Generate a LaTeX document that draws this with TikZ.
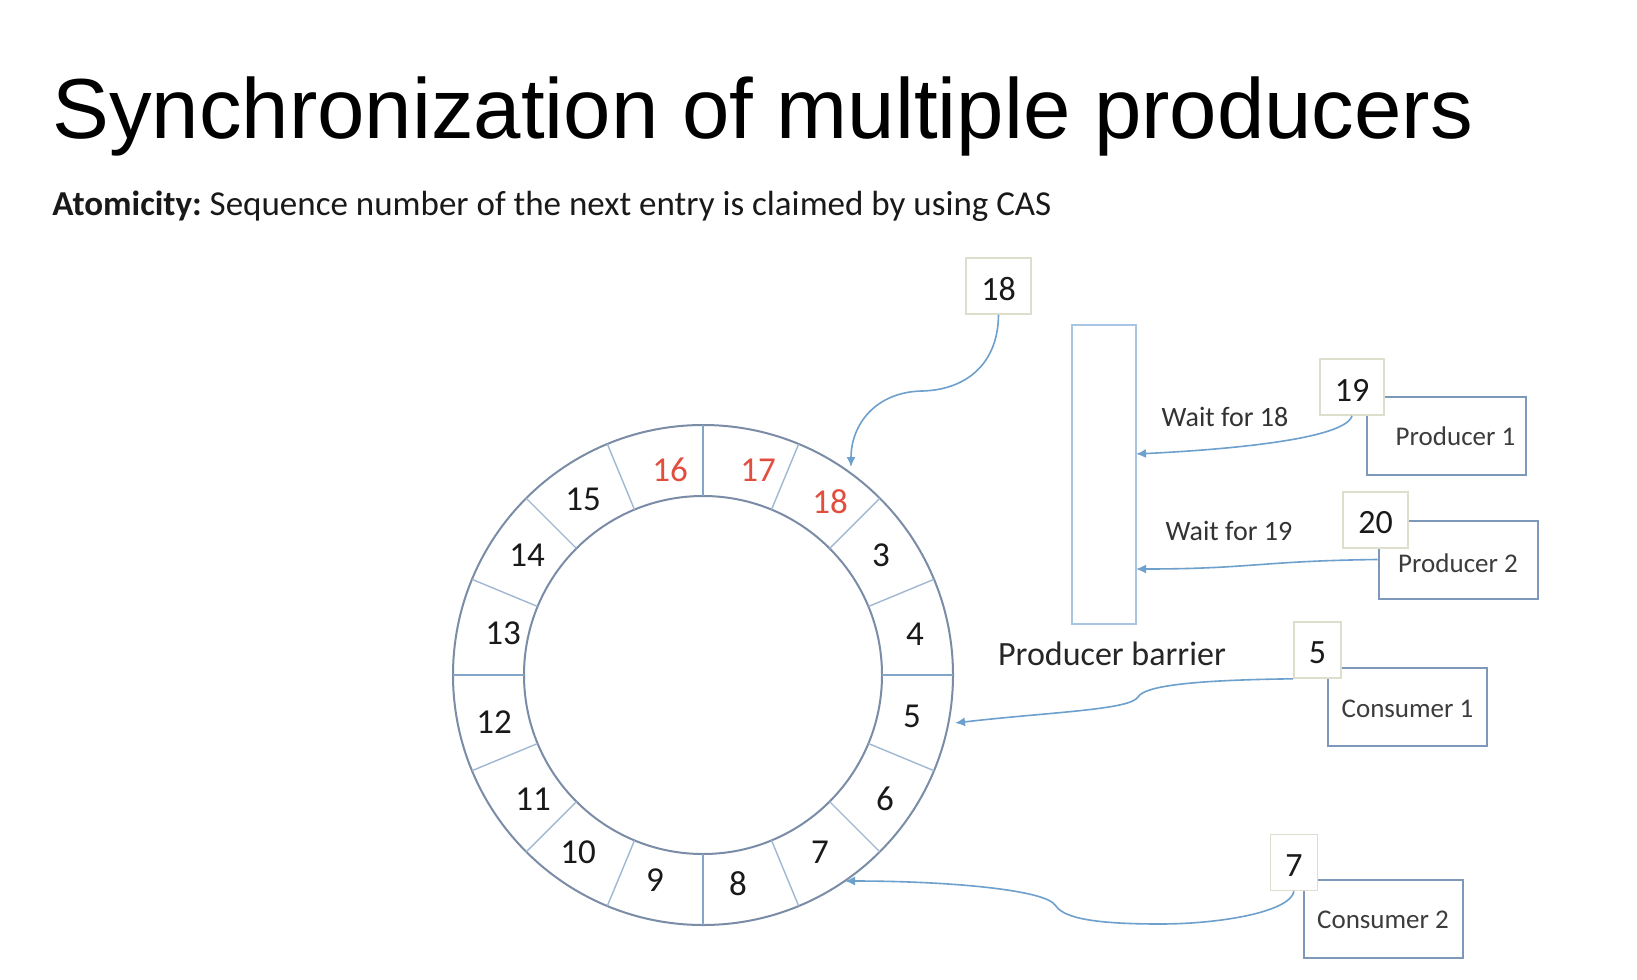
\documentclass[tikz,border=0pt]{standalone}
\usepackage{fontspec}
\setmainfont{Carlito}
\newfontfamily\titlefont{Liberation Sans}
\usetikzlibrary{arrows.meta}
\frenchspacing
\definecolor{ringline}{RGB}{122,140,166}
\definecolor{divline}{RGB}{160,184,210}
\definecolor{axisline}{RGB}{130,165,200}
\definecolor{seqred}{RGB}{226,78,62}
\definecolor{linkblue}{RGB}{110,160,205}
\definecolor{boxline}{RGB}{125,152,185}
\definecolor{tagline}{RGB}{222,222,205}
\definecolor{barrierline}{RGB}{168,198,228}
\definecolor{labeltext}{RGB}{60,60,60}
% lower a box label without changing the node size
\newcommand{\lowered}[2]{\smash{\raisebox{-#1}{#2}}\vphantom{#2}}

\begin{document}
\begin{tikzpicture}[x=0.5pt,y=-0.5pt,
  slot/.style={font=\fontsize{17.5}{20}\selectfont, text=black!90, inner sep=0pt},
  hot/.style={slot, text=seqred},
  tag/.style={draw=tagline, line width=0.8pt, fill=white, font=\fontsize{17}{20}\selectfont,
    inner xsep=7.5pt, minimum height=28pt, text=black!90},
  actor/.style={draw=boxline, line width=1pt, minimum width=79.5pt, minimum height=39pt,
    font=\fontsize{13.5}{16}\selectfont, text=labeltext},
  link/.style={draw=linkblue, line width=0.8pt, -{Latex[length=5pt,width=4.5pt]}},
  note/.style={font=\fontsize{14}{17}\selectfont, text=black!80, inner sep=0pt},
]
\useasboundingbox (0,0) rectangle (1637,979);
\fill[white] (0,0) rectangle (1637,979);

% heading
\node[anchor=base west, inner sep=0pt, font=\titlefont\fontsize{42.6}{48}\selectfont] (title)
  at (52,139) {Synchronization of multiple producers};
\node[anchor=base west, inner sep=0pt, font=\fontsize{17.5}{20}\selectfont, text=black!90] (subtitle)
  at (52,215) {\textbf{Atomicity:} Sequence number of the next entry is claimed by using CAS};

% ring buffer
\begin{scope}[shift={(703,675)}]
  \draw[ringline, line width=1pt] (0,0) circle (250) (0,0) circle (179);
  \foreach \a in {22.5,45,67.5,112.5,135,157.5,202.5,225,247.5,292.5,315,337.5}
    \draw[divline, line width=0.7pt] (-\a:179) -- (-\a:250);
  \foreach \a in {0,90,180,270}
    \draw[axisline, line width=1pt] (-\a:179) -- (-\a:250);
\end{scope}

% slot numbers
\foreach \n/\x/\y in {3/881/555, 4/915/634, 5/912/716, 6/885/799, 7/820/852, 8/738/884,
                      9/655/880, 10/578/852, 11/533/799, 12/494/722, 13/503/633,
                      14/527/555, 15/583/499}
  \node[slot] (c\n) at (\x,\y) {\n};
\foreach \n/\x/\y in {16/670/470, 17/758/470, 18/830/502}
  \node[hot] (c\n) at (\x,\y) {\n};

% producer barrier
\node[draw=barrierline, line width=0.9pt, minimum width=32pt, minimum height=149.5pt, inner sep=0pt]
  (barrier) at (1104,474.5) {};
\node[font=\fontsize{17}{20}\selectfont, text=black!85, inner sep=0pt] (barrierlabel)
  at (1112,654) {Producer barrier};
\node[note] (wait18) at (1225,417) {Wait for 18};
\node[note] (wait19) at (1229,531) {Wait for 19};

% producers and consumers
\node[actor] (p1) at (1446.5,436) {\hspace*{9pt}Producer 1};
\node[actor] (p2) at (1458,559.5) {\lowered{2pt}{Producer 2}};
\node[actor] (k1) at (1407.5,706.5) {\lowered{1pt}{Consumer 1}};
\node[actor] (k2) at (1383,918.5) {\lowered{0.5pt}{Consumer 2}};

% sequence tags
\node[tag] (n18) at (998.5,286) {\lowered{1.5pt}{18}};
\node[tag] (n19) at (1352,387) {\lowered{1.5pt}{19}};
\node[tag] (n20) at (1375.5,520) {\lowered{1.5pt}{20}};
\node[tag] (n5) at (1317.5,650) {\lowered{1.5pt}{5}};
\node[tag] (n7) at (1294,862.5) {\lowered{1.5pt}{7}};

% arrow targets
\coordinate (t18) at (851,467);
\coordinate (t5) at (955,723);
\coordinate (t7) at (845,881);
\coordinate (tw18) at (1136,454);
\coordinate (tw19) at (1136,569);

% connectors
\draw[link] (n18.south) .. controls (998,365) and (965,390) .. (922,391)
  .. controls (875,392) and (851,425) .. (t18);
\draw[link] (n19.south) .. controls (1345,440) and (1220,450) .. (tw18);
\draw[link] (p2.west) .. controls (1260,561) and (1250,569) .. (tw19);
\draw[link] (n5.south west) .. controls (1200,680) and (1145,685) .. (1138,697)
  .. controls (1130,710) and (1050,712) .. (t5);
\draw[link] (n7.south) .. controls (1290,912) and (1220,924) .. (1160,924)
  .. controls (1080,924) and (1062,915) .. (1055,905)
  .. controls (1045,890) and (950,881) .. (t7);
\end{tikzpicture}
\end{document}
